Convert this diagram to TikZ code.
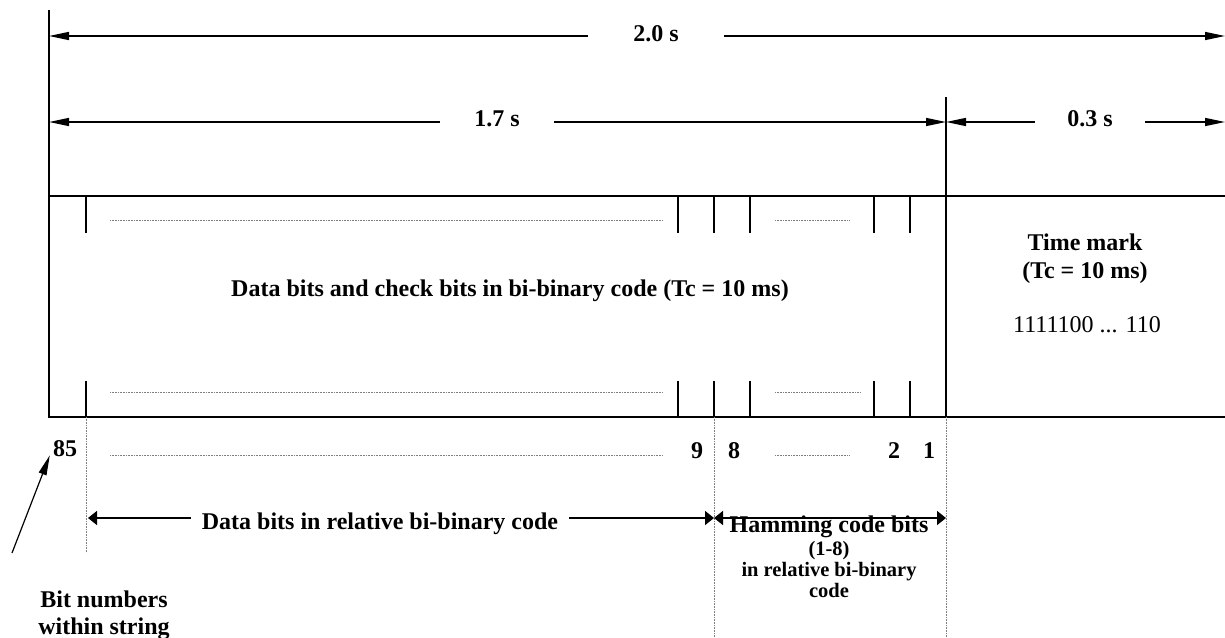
\documentclass[tikz,border=0pt]{standalone}
\usepackage{fontspec}
\setmainfont{Liberation Serif}
\usetikzlibrary{arrows.meta}

\begin{document}
\begin{tikzpicture}[x=1pt,y=-1pt,
    every node/.style={inner sep=0pt, font=\fontsize{24}{28}\selectfont\bfseries},
    frame/.style={line width=1.5pt},
    dim/.style={line width=1.5pt, {Triangle[length=20pt,width=8pt]}-{Triangle[length=20pt,width=8pt]}},
    span/.style={line width=1.5pt, {Triangle[length=9pt,width=14pt]}-{Triangle[length=9pt,width=14pt]}},
    faint/.style={densely dotted, line width=0.6pt, gray},
    gap/.style={fill=white, minimum height=12pt}]
    \useasboundingbox (0,0) rectangle (1225,637);

    % Define the coordinates
    \coordinate (start) at (49,10);
    \coordinate (corner) at (49,417);
    \coordinate (split) at (946,97);

    % Frame of the string
    \draw[frame] (start) -- (corner) -- (1225,417);  % Left edge and bottom
    \draw[frame] (49,196) -- (1225,196);  % Top of the box
    \draw[frame] (split) -- (946,417);  % Time mark boundary

    % Bit cells
    \foreach \x in {86,678,714,750,874,910} {
        \draw[frame] (\x,196) -- (\x,233);
        \draw[frame] (\x,381) -- (\x,417);
    }

    % Dotted fillers
    \draw[faint] (110,220) -- (663,220);
    \draw[faint] (775,220) -- (849,220);
    \draw[faint] (110,392) -- (663,392);
    \draw[faint] (775,392) -- (861,392);
    \draw[faint] (110,455) -- (663,455);
    \draw[faint] (775,455) -- (849,455);
    \draw[faint] (86,417) -- (86,553);
    \draw[faint] (714,417) -- (714,637);
    \draw[faint] (946,417) -- (946,637);

    % Durations
    \coordinate (a0) at (49,36);
    \coordinate (a1) at (1225,36);
    \draw[dim] (a0) -- (a1);
    \node[gap, minimum width=136pt] (total) at (656,34) {2.0 s};

    \coordinate (b0) at (49,122);
    \coordinate (b1) at (946,122);
    \draw[dim] (b0) -- (b1);
    \node[gap, minimum width=114pt] (data) at (497,119) {1.7 s};

    \coordinate (c0) at (946,122);
    \coordinate (c1) at (1225,122);
    \draw[dim] (c0) -- (c1);
    \node[gap, minimum width=110pt] (mark) at (1090,119) {0.3 s};

    % Box labels
    \node (bits) at (510,291) {Data bits and check bits in bi-binary code (Tc = 10 ms)};
    \node[align=center] (tm) at (1085,259) {Time mark\\(Tc = 10 ms)};
    \node[font=\fontsize{24}{28}\selectfont] (seq) at (1087,325) {1111100 ... 110};

    % Bit numbers
    \node (n85) at (65,449) {85};
    \node (n9) at (697,451) {9};
    \node (n8) at (734,451) {8};
    \node (n2) at (894,451) {2};
    \node (n1) at (929,451) {1};

    % Data and Hamming spans
    \coordinate (d0) at (88,518);
    \coordinate (d1) at (714,518);
    \coordinate (h1) at (946,518);
    \draw[span] (d0) -- (d1);
    \node[gap, minimum width=378pt] (rel) at (380,524) {Data bits in relative bi-binary code};
    \draw[span] (d1) -- (h1);
    \node (ham) at (829,527) {Hamming code bits};
    \node[align=center, font=\fontsize{20.5}{21}\selectfont\bfseries] (hamsub) at (829,569) {(1-8)\\in relative bi-binary\\code};

    % Pointer to the bit numbers
    \coordinate (tail) at (12,553);
    \draw[line width=1.2pt, -{Triangle[length=20pt,width=8pt]}] (tail) -- ([xshift=-3pt,yshift=2pt]n85.south west);
    \node[align=center, font=\fontsize{24}{27}\selectfont\bfseries] (bn) at (104,615) {Bit numbers\\within string};

\end{tikzpicture}
\end{document}
